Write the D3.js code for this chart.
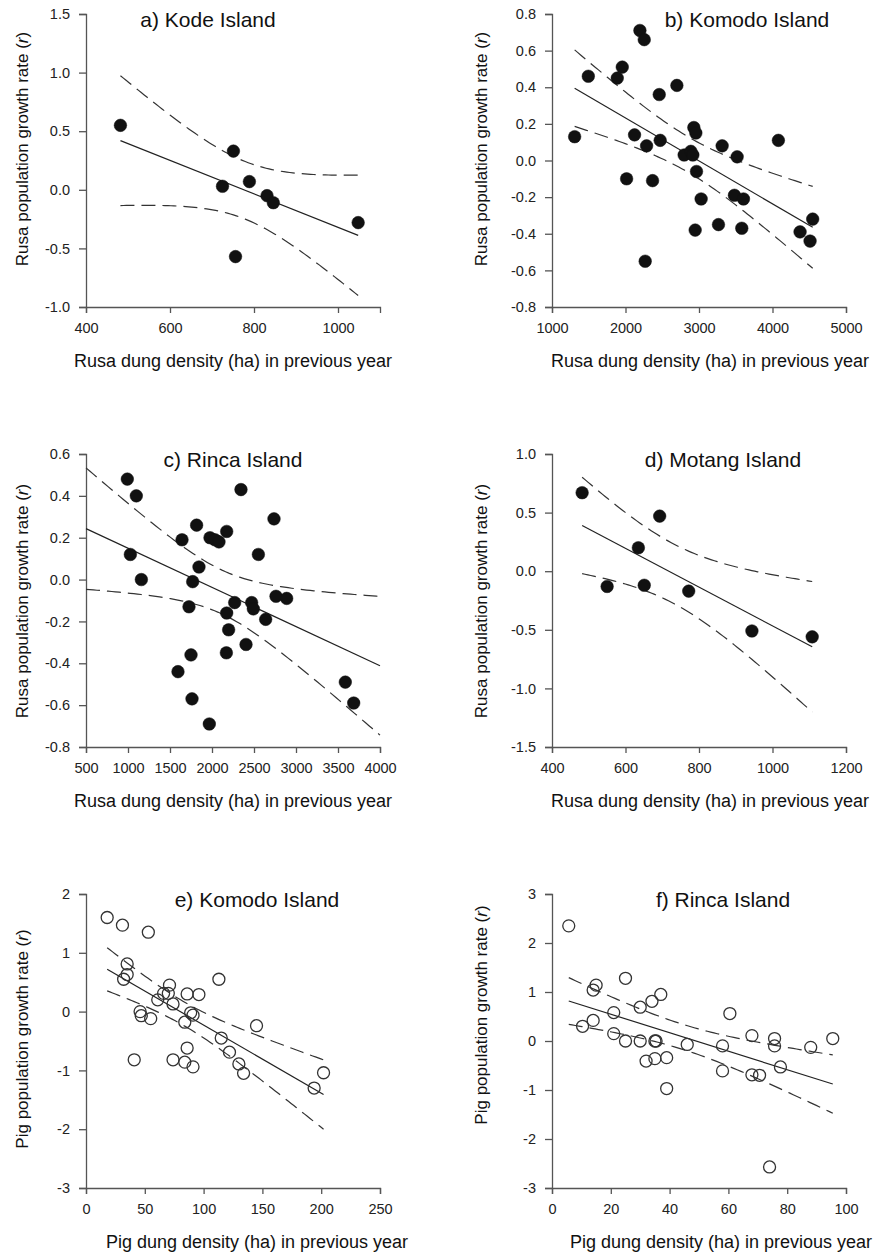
<!DOCTYPE html>
<html>
<head>
<meta charset="utf-8">
<script src="https://cdn.jsdelivr.net/npm/d3@7"></script>
<style>
  body { margin: 0; background: #fff; }
  svg { display: block; font-family: "Liberation Sans", Arial, sans-serif; }
</style>
</head>
<body>
<svg id="chart" width="874" height="1255"></svg>
<script>
// a) Kode Island - rusa
const kodeDung = [482, 751, 725, 789, 831, 846, 1048, 756];
const kodeGrowth = [0.55, 0.33, 0.03, 0.07, -0.05, -0.11, -0.28, -0.57];

// b) Komodo Island - rusa
const komodoDung = [1308, 1494, 1888, 1956, 2196, 2255, 2015, 2123, 2287, 2368, 2268, 2459, 2472, 2699, 2798, 2889,
  2916, 2930, 2957, 2966, 2948, 3029, 3265, 3315, 3482, 3519, 3605, 3582, 4080, 4375, 4511, 4547];
const komodoGrowth = [0.13, 0.46, 0.45, 0.51, 0.71, 0.66, -0.10, 0.14, 0.08, -0.11, -0.55, 0.36, 0.11, 0.41, 0.03, 0.05,
  0.03, 0.18, 0.15, -0.06, -0.38, -0.21, -0.35, 0.08, -0.19, 0.02, -0.21, -0.37, 0.11, -0.39, -0.44, -0.32];

// c) Rinca Island - rusa
const rincaDung = [992, 1099, 1028, 1159, 1595, 1643, 1726, 1770, 1750, 1762, 1817, 1845, 1968, 1976, 2036, 2083,
  2175, 2175, 2198, 2171, 2270, 2345, 2405, 2472, 2492, 2552, 2639, 2738, 2762, 2889, 3587, 3687];
const rincaGrowth = [0.48, 0.40, 0.12, 0.00, -0.44, 0.19, -0.13, -0.01, -0.36, -0.57, 0.26, 0.06, -0.69, 0.20, 0.19, 0.18,
  0.23, -0.16, -0.24, -0.35, -0.11, 0.43, -0.31, -0.11, -0.14, 0.12, -0.19, 0.29, -0.08, -0.09, -0.49, -0.59];

// d) Motang Island - rusa
const motangDung = [482, 550, 635, 651, 693, 772, 944, 1108];
const motangGrowth = [0.67, -0.13, 0.20, -0.12, 0.47, -0.17, -0.51, -0.56];

// e) Komodo Island - pig
const komodoPigDung = [18, 31, 53, 35, 35, 32, 41, 46, 47, 55, 61, 66, 71, 70, 74, 74,
  86, 84, 86, 84, 91, 89, 91, 96, 113, 115, 122, 130, 134, 145, 194, 202];
const komodoPigGrowth = [1.60, 1.47, 1.35, 0.81, 0.63, 0.55, -0.82, 0.00, -0.07, -0.12, 0.20, 0.31, 0.45, 0.31, 0.13, -0.82,
  0.30, -0.18, -0.62, -0.86, -0.94, -0.02, -0.06, 0.29, 0.55, -0.45, -0.69, -0.89, -1.05, -0.24, -1.30, -1.04];

// f) Rinca Island - pig
const rincaPigDung = [5.7, 10.4, 14, 15, 14, 21, 21, 25, 25, 30, 30, 32, 34, 35, 35.4, 35,
  37, 39, 39, 46, 58, 58, 60.5, 68, 68, 70.6, 74, 75.7, 75.7, 77.7, 88, 95.5];
const rincaPigGrowth = [2.35, 0.30, 0.42, 1.14, 1.04, 0.58, 0.15, 1.28, 0.00, 0.69, 0.00, -0.41, 0.81, 0.00, 0.00, -0.36,
  0.95, -0.34, -0.97, -0.07, -0.10, -0.61, 0.56, 0.11, -0.69, -0.70, -2.57, 0.05, -0.10, -0.53, -0.13, 0.05];

// axis ticks
const ticksXa = [400, 600, 800, 1000];
const ticksYa = [-1.0, -0.5, 0.0, 0.5, 1.0, 1.5];
const ticksXb = [1000, 2000, 3000, 4000, 5000];
const ticksYb = [-0.8, -0.6, -0.4, -0.2, 0.0, 0.2, 0.4, 0.6, 0.8];
const ticksXc = [500, 1000, 1500, 2000, 2500, 3000, 3500, 4000];
const ticksYc = [-0.8, -0.6, -0.4, -0.2, 0.0, 0.2, 0.4, 0.6];
const ticksXd = [400, 600, 800, 1000, 1200];
const ticksYd = [-1.5, -1.0, -0.5, 0.0, 0.5, 1.0];
const ticksXe = [0, 50, 100, 150, 200, 250];
const ticksYef = [-3, -2, -1, 0, 1, 2, 3];
const ticksXf = [0, 20, 40, 60, 80, 100];

const rusaXLabel = 'Rusa dung density (ha) in previous year';
const pigXLabel = 'Pig dung density (ha) in previous year';

const panels = [
  { xs: kodeDung, ys: kodeGrowth, xDom: [400, 1100], yDom: [-1, 1.5], xt: ticksXa, yt: ticksYa, dec: 1,
    title: 'a) Kode Island', animal: 'Rusa', xLabel: rusaXLabel, filled: true, fullLine: false,
    l: 86, r: 380, t: 14, b: 307, titleX: 208, labelX: 233, yLabelX: 22, yLabelY: 149 },
  { xs: komodoDung, ys: komodoGrowth, xDom: [1000, 5000], yDom: [-0.8, 0.8], xt: ticksXb, yt: ticksYb, dec: 1,
    title: 'b) Komodo Island', animal: 'Rusa', xLabel: rusaXLabel, filled: true, fullLine: false,
    l: 552, r: 846, t: 14, b: 307, titleX: 747, labelX: 710, yLabelX: 481, yLabelY: 149 },
  { xs: rincaDung, ys: rincaGrowth, xDom: [500, 4000], yDom: [-0.8, 0.6], xt: ticksXc, yt: ticksYc, dec: 1,
    title: 'c) Rinca Island', animal: 'Rusa', xLabel: rusaXLabel, filled: true, fullLine: true,
    l: 86, r: 380, t: 454, b: 747, titleX: 233, labelX: 233, yLabelX: 22, yLabelY: 601 },
  { xs: motangDung, ys: motangGrowth, xDom: [400, 1200], yDom: [-1.5, 1.0], xt: ticksXd, yt: ticksYd, dec: 1,
    title: 'd) Motang Island', animal: 'Rusa', xLabel: rusaXLabel, filled: true, fullLine: false,
    l: 552, r: 846, t: 454, b: 747, titleX: 723, labelX: 710, yLabelX: 481, yLabelY: 601 },
  { xs: komodoPigDung, ys: komodoPigGrowth, xDom: [0, 250], yDom: [-3, 2], xt: ticksXe, yt: ticksYef.slice(0, 6), dec: 0,
    title: 'e) Komodo Island', animal: 'Pig', xLabel: pigXLabel, filled: false, fullLine: false,
    l: 86, r: 380, t: 894, b: 1188, titleX: 257, labelX: 257, yLabelX: 22, yLabelY: 1039 },
  { xs: rincaPigDung, ys: rincaPigGrowth, xDom: [0, 100], yDom: [-3, 3], xt: ticksXf, yt: ticksYef, dec: 0,
    title: 'f) Rinca Island', animal: 'Pig', xLabel: pigXLabel, filled: false, fullLine: false,
    l: 552, r: 846, t: 894, b: 1188, titleX: 723, labelX: 721, yLabelX: 481, yLabelY: 1015 }
];

// two-sided 95% t quantile (Cornish-Fisher approximation)
function tCrit(df) {
  const z = 1.959964;
  const z3 = z ** 3, z5 = z ** 5, z7 = z ** 7;
  return z + (z3 + z) / (4 * df) + (5 * z5 + 16 * z3 + 3 * z) / (96 * df * df)
    + (3 * z7 + 19 * z5 + 17 * z3 - 15 * z) / (384 * df ** 3);
}

function fit(xs, ys) {
  const n = xs.length;
  const mx = d3.mean(xs), my = d3.mean(ys);
  let sxx = 0, sxy = 0;
  xs.forEach((x, i) => { sxx += (x - mx) ** 2; sxy += (x - mx) * (ys[i] - my); });
  const slope = sxy / sxx;
  const icpt = my - slope * mx;
  const sse = d3.sum(xs, (x, i) => (ys[i] - icpt - slope * x) ** 2);
  const s = Math.sqrt(sse / (n - 2));
  const t = tCrit(n - 2);
  return {
    pred: x => icpt + slope * x,
    half: x => t * s * Math.sqrt(1 / n + (x - mx) ** 2 / sxx)
  };
}

const svg = d3.select('#chart');

panels.forEach(p => {
  const x = d3.scaleLinear().domain(p.xDom).range([p.l, p.r]);
  const y = d3.scaleLinear().domain(p.yDom).range([p.b, p.t]);
  const g = svg.append('g');
  const fmt = d => d.toFixed(p.dec);

  // axes
  const xAxis = g.append('g')
    .attr('transform', `translate(0,${p.b})`)
    .call(d3.axisBottom(x).tickValues(p.xt).tickFormat(d => d).tickSizeOuter(0).tickSize(6).tickPadding(10));
  const yAxis = g.append('g')
    .attr('transform', `translate(${p.l},0)`)
    .call(d3.axisLeft(y).tickValues(p.yt).tickFormat(fmt).tickSizeOuter(0).tickSize(7).tickPadding(9));
  [xAxis, yAxis].forEach(a => {
    a.select('.domain').attr('stroke', '#555').attr('stroke-width', 1.3);
    a.selectAll('.tick line').attr('stroke', '#555').attr('stroke-width', 1.3);
    a.selectAll('.tick text').attr('fill', '#222').style('font-size', '14.5px')
      .style('font-family', '"Liberation Sans", Arial, sans-serif');
  });

  // regression line and 95% confidence band
  const f = fit(p.xs, p.ys);
  const lo = p.fullLine ? p.xDom[0] : d3.min(p.xs);
  const hi = p.fullLine ? p.xDom[1] : d3.max(p.xs);
  const grid = d3.range(0, 81).map(i => lo + (hi - lo) * i / 80);
  const line = d3.line().x(d => x(d[0])).y(d => y(d[1]));

  g.append('path')
    .attr('d', line(grid.map(v => [v, f.pred(v) + f.half(v)])))
    .attr('fill', 'none').attr('stroke', '#333').attr('stroke-width', 1.2).attr('stroke-dasharray', '14,7');
  g.append('path')
    .attr('d', line(grid.map(v => [v, f.pred(v) - f.half(v)])))
    .attr('fill', 'none').attr('stroke', '#333').attr('stroke-width', 1.2).attr('stroke-dasharray', '14,7');
  g.append('path')
    .attr('d', line([lo, hi].map(v => [v, f.pred(v)])))
    .attr('fill', 'none').attr('stroke', '#222').attr('stroke-width', 1.2);

  // points
  g.selectAll('circle.pt')
    .data(p.xs.map((v, i) => [v, p.ys[i]]))
    .join('circle')
    .attr('class', 'pt')
    .attr('cx', d => x(d[0]))
    .attr('cy', d => y(d[1]))
    .attr('r', p.filled ? 6.3 : 6)
    .attr('fill', p.filled ? '#111' : 'none')
    .attr('stroke', p.filled ? '#111' : '#333')
    .attr('stroke-width', p.filled ? 0.5 : 1.3);

  // title
  g.append('text')
    .attr('x', p.titleX).attr('y', p.t + 13)
    .attr('text-anchor', 'middle')
    .attr('fill', '#111')
    .style('font-size', '21px')
    .text(p.title);

  // x label
  g.append('text')
    .attr('x', p.labelX).attr('y', p.b + 60)
    .attr('text-anchor', 'middle')
    .attr('fill', '#111')
    .style('font-size', '18px')
    .text(p.xLabel);

  // y label
  const yl = g.append('text')
    .attr('transform', `translate(${p.yLabelX + 6},${p.yLabelY}) rotate(-90)`)
    .attr('text-anchor', 'middle')
    .attr('fill', '#111')
    .style('font-size', '17px');
  yl.append('tspan').text(p.animal + ' population growth rate (');
  yl.append('tspan').style('font-style', 'italic').text('r');
  yl.append('tspan').text(')');
});
</script>
</body>
</html>
